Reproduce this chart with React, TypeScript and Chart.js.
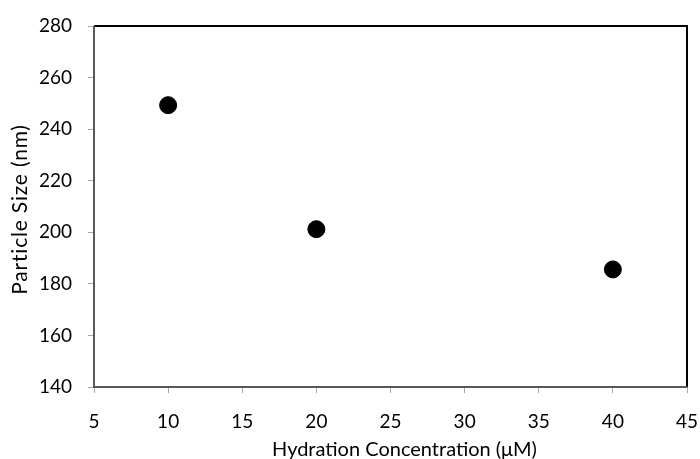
import React, { useEffect, useRef } from "react";
import { Chart, registerables } from "chart.js";

Chart.register(...registerables);

const concentrations = [10, 20, 40];
const particleSizes = [249.3, 201.2, 185.6];
const xTicks = { min: 5, max: 45, step: 5 };
const yTicks = { min: 140, max: 280, step: 20 };
const xTitle = "Hydration Concentration (μM)";
const yTitle = "Particle Size (nm)";

const FONT = "Lato, 'Open Sans', sans-serif";

const frame = {
  id: "frame",
  afterDatasetsDraw(chart: any) {
    const { ctx, chartArea: a } = chart;
    ctx.save();
    ctx.lineWidth = 2;
    ctx.strokeStyle = "#000";
    ctx.beginPath();
    ctx.moveTo(a.left, a.top);
    ctx.lineTo(a.right, a.top);
    ctx.lineTo(a.right, a.bottom);
    ctx.stroke();
    ctx.strokeStyle = "#595959";
    ctx.beginPath();
    ctx.moveTo(a.left, a.top);
    ctx.lineTo(a.left, a.bottom);
    ctx.lineTo(a.right, a.bottom);
    ctx.stroke();
    ctx.restore();
  },
};

const axisTitles = {
  id: "axisTitles",
  afterDraw(chart: any) {
    const { ctx, chartArea: a, height } = chart;
    ctx.save();
    ctx.fillStyle = "#000";
    ctx.textAlign = "center";
    ctx.textBaseline = "alphabetic";
    ctx.font = `20px ${FONT}`;
    ctx.fillText(xTitle, (a.left + a.right) / 2 + 14, height - 3);
    ctx.translate(27, (a.top + a.bottom) / 2 + 3);
    ctx.rotate(-Math.PI / 2);
    ctx.font = `21px ${FONT}`;
    (ctx as any).letterSpacing = "0.8px";
    ctx.fillText(yTitle, 0, 0);
    ctx.restore();
  },
};

export default function App() {
  const ref = useRef<HTMLCanvasElement>(null);
  useEffect(() => {
    document.body.style.margin = "0";
    const chart = new Chart(ref.current!, {
      type: "scatter",
      data: {
        datasets: [
          {
            data: concentrations.map((x, i) => ({ x, y: particleSizes[i] })),
            backgroundColor: "#000",
            borderColor: "#000",
            pointRadius: 8.5,
            pointHoverRadius: 8.5,
          },
        ],
      },
      options: {
        animation: false,
        responsive: false,
        layout: { padding: { top: 26, right: 13, left: 0, bottom: 0 } },
        plugins: { legend: { display: false }, tooltip: { enabled: false } },
        scales: {
          x: {
            type: "linear",
            min: xTicks.min,
            max: xTicks.max,
            ticks: { stepSize: xTicks.step, color: "#000", font: { family: FONT, size: 19 }, padding: 17 },
            grid: { display: true, drawOnChartArea: false, tickLength: 6, color: "#a6a6a6" },
            border: { display: false },
            title: { display: false, text: xTitle },
            afterFit(s: any) { s.height = 72; s.paddingRight = 0; s.paddingLeft = 0; },
          },
          y: {
            type: "linear",
            min: yTicks.min,
            max: yTicks.max,
            ticks: { stepSize: yTicks.step, color: "#000", font: { family: FONT, size: 19 }, padding: 16 },
            grid: { display: true, drawOnChartArea: false, tickLength: 6, color: "#a6a6a6" },
            border: { display: false },
            title: { display: false, text: yTitle },
            afterFit(s: any) { s.width = 94; s.paddingTop = 0; s.paddingBottom = 0; },
          },
        },
      },
      plugins: [frame, axisTitles],
    });
    return () => chart.destroy();
  }, []);
  return (
    <div style={{ width: 700, height: 459 }}>
      <canvas ref={ref} width={700} height={459} style={{ display: "block" }} />
    </div>
  );
}
